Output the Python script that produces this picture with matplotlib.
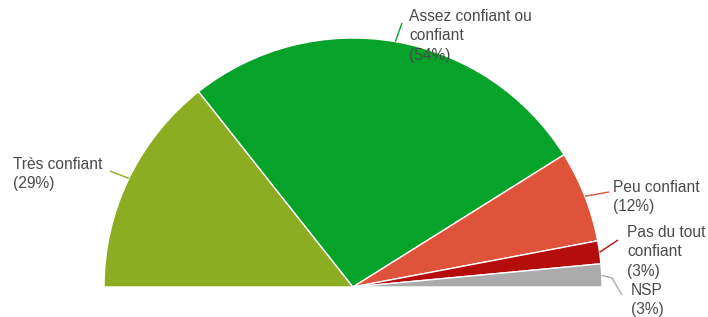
import numpy as np
import matplotlib.pyplot as plt

# ---------------------------------------------------------------------
# Data.
# ---------------------------------------------------------------------
LABELS = ["Très confiant", "Assez confiant ou\nconfiant", "Peu confiant",
          "Pas du tout\nconfiant", "NSP"]
PCTS = [29, 54, 12, 3, 3]
COLORS = ["#8CAD22", "#06A32A", "#DF533A", "#B50C0C", "#ABABAB"]

# Label anchor (left x, top y) in pixel coords (top-left origin), and
# leader line end points.
LABEL_POS = [(13, 157), (409, 9), (613, 180), (627, 225), (631, 283)]
LEADER_END = [(110, 171), (402, 23), (609, 192), (618, 240), (622, 295)]

W, H = 708, 317
CX, CY, R = 353, 287, 249


def main():
    fig = plt.figure(figsize=(W / 100, H / 100), dpi=100)
    ax = fig.add_axes([0, 0, 1, 1])

    total = sum(PCTS)
    vals = PCTS + [total]  # invisible lower half
    cols = COLORS + ["none"]
    wedges, _ = ax.pie(
        vals, colors=cols, startangle=180, counterclock=False,
        radius=R, center=(CX, H - CY),
        wedgeprops=dict(edgecolor="white", linewidth=1.0),
    )
    wedges[-1].set_edgecolor("none")

    ax.set_xlim(0, W)
    ax.set_ylim(0, H)
    ax.set_aspect("equal")
    ax.axis("off")

    for i, w in enumerate(wedges[:-1]):
        mid = np.deg2rad((w.theta1 + w.theta2) / 2)
        sx = CX + R * np.cos(mid)
        sy = (H - CY) + R * np.sin(mid)
        ex, ey = LEADER_END[i]
        xs, ys = [sx, ex], [sy, H - ey]
        if LABELS[i] == "NSP":
            xs, ys = [sx, 612, ex], [sy, H - 278, H - ey]
        ax.plot(xs, ys, color=COLORS[i], linewidth=1, solid_capstyle="butt")
        lx, ly = LABEL_POS[i]
        ax.text(lx, H - ly, f"{LABELS[i]}\n({PCTS[i]}%)",
                ha="left", va="top", fontsize=11.2, color="#4a4a4a",
                family="Liberation Sans", linespacing=1.36)

    fig.savefig("out.png", dpi=100)


if __name__ == "__main__":
    main()
